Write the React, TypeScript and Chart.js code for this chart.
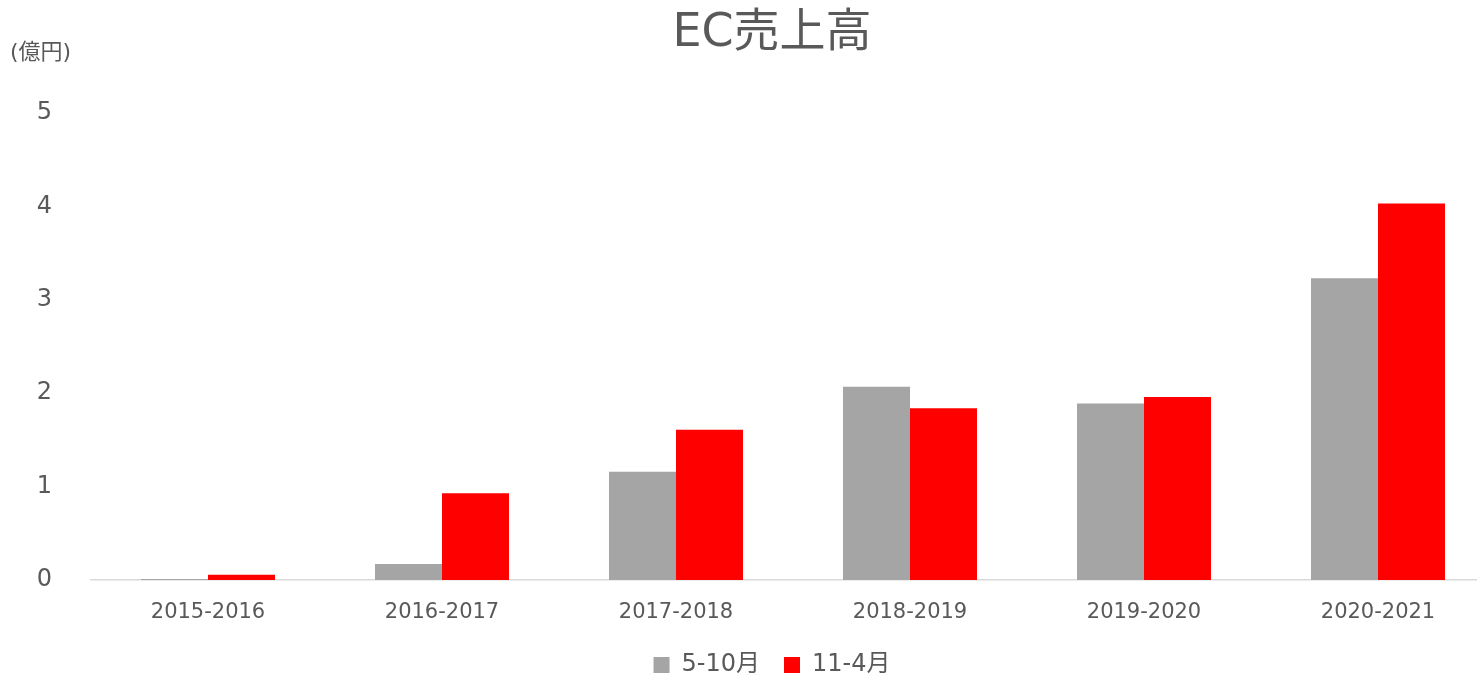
import React, { useEffect, useRef } from "react";
import { Chart, registerables } from "chart.js";

Chart.register(...registerables);

const categories = ["2015-2016", "2016-2017", "2017-2018", "2018-2019", "2019-2020", "2020-2021"];
const seriesLabels = ["5-10月", "11-4月"];
const seriesFirstHalf = [0.01, 0.17, 1.16, 2.07, 1.89, 3.23];
const seriesSecondHalf = [0.055, 0.93, 1.61, 1.84, 1.96, 4.03];
const yTickValues = [0, 1, 2, 3, 4, 5];
const chartTitle = "EC売上高";
const unitLabel = "(億円)";

const FONT = '"DejaVu Sans", "Noto Sans CJK JP", sans-serif';
const TEXT = "#595959";
const W = 1544;
const H = 687;

const unitPlugin = {
  id: "unitLabel",
  afterDraw(chart: any) {
    const ctx = chart.ctx;
    ctx.save();
    ctx.font = `22px ${FONT}`;
    ctx.fillStyle = TEXT;
    ctx.textBaseline = "middle";
    ctx.textAlign = "left";
    ctx.fillText(unitLabel, 10, 53);
    ctx.restore();
  },
};

export default function App() {
  const ref = useRef<HTMLCanvasElement | null>(null);
  useEffect(() => {
    if (!ref.current) return;
    const chart = new Chart(ref.current, {
      type: "bar",
      data: {
        labels: categories,
        datasets: [
          {
            label: seriesLabels[0],
            data: seriesFirstHalf,
            backgroundColor: "#a5a5a5",
            borderWidth: 0,
            categoryPercentage: 0.5726,
            barPercentage: 1,
          },
          {
            label: seriesLabels[1],
            data: seriesSecondHalf,
            backgroundColor: "#ff0000",
            borderWidth: 0,
            categoryPercentage: 0.5726,
            barPercentage: 1,
          },
        ],
      },
      options: {
        responsive: false,
        animation: false,
        layout: { padding: { left: 0, right: 0, top: 0, bottom: 0 } },
        plugins: {
          title: {
            display: true,
            text: chartTitle,
            color: TEXT,
            font: { family: FONT, size: 46, weight: "normal", lineHeight: 1.2 },
            padding: { top: 6, bottom: 51.8 },
          },
          legend: {
            position: "bottom",
            labels: {
              color: TEXT,
              font: { family: FONT, size: 24 },
              boxWidth: 16,
              boxHeight: 16,
              padding: 24,
            },
          },
          tooltip: { enabled: false },
        },
        scales: {
          x: {
            grid: { display: false },
            border: { display: true, color: "#d9d9d9", width: 1.5 },
            ticks: { color: TEXT, font: { family: FONT, size: 21 }, padding: 12 },
            afterFit(scale: any) {
              scale.height = 49;
            },
          },
          y: {
            min: 0,
            max: 5,
            grid: { display: false },
            border: { display: false },
            afterBuildTicks(scale: any) {
              scale.ticks = yTickValues.map((v) => ({ value: v }));
            },
            ticks: { color: TEXT, font: { family: FONT, size: 24 }, padding: 31 },
            afterFit(scale: any) {
              scale.width = 91;
            },
          },
          yRightSpacer: {
            type: "linear",
            position: "right",
            display: true,
            grid: { display: false },
            border: { display: false },
            ticks: { display: false },
            afterFit(scale: any) {
              scale.width = 49;
            },
          },
        },
      },
      plugins: [unitPlugin],
    });
    return () => chart.destroy();
  }, []);
  return (
    <div style={{ position: "fixed", left: 0, top: 0, width: W, height: H, background: "#fff" }}>
      <canvas ref={ref} width={W} height={H} style={{ width: W, height: H, display: "block" }} />
    </div>
  );
}
